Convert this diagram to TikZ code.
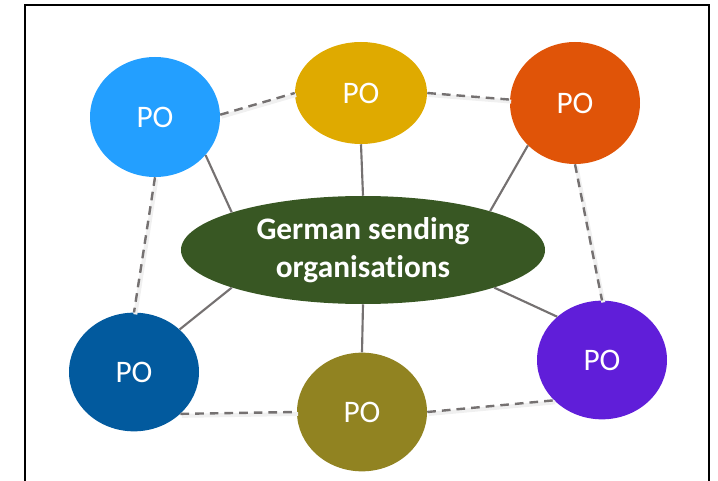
\documentclass[tikz,border=0pt]{standalone}
\usepackage{fontspec}
\setmainfont{Carlito}[Ligatures=NoCommon]
\usepackage{xcolor}
\usepackage{tikz}
\usetikzlibrary{shapes.geometric}

\definecolor{poSky}{HTML}{239FFF}
\definecolor{poGold}{HTML}{DFAA00}
\definecolor{poOrange}{HTML}{E05408}
\definecolor{poNavy}{HTML}{025A9E}
\definecolor{poPurple}{HTML}{601ED9}
\definecolor{poOlive}{HTML}{918321}
\definecolor{hubGreen}{HTML}{385723}
\definecolor{linkGray}{HTML}{757171}

\begin{document}
\begin{tikzpicture}[x=0.75pt, y=-0.75pt,
    po/.style={ellipse, inner sep=0pt, minimum width=97.5pt, minimum height=90pt,
      text=white, font=\fontsize{23.5}{28}\selectfont},
    link/.style={draw=linkGray, line width=1.6pt},
    peer/.style={draw=linkGray, line width=1.8pt, dash pattern=on 6.5pt off 4.5pt,
      preaction={draw=black!6, line width=3pt, transform canvas={shift={(1pt,-1.5pt)}}}}]
    \useasboundingbox (0,0) rectangle (718,481);

    % Frame
    \draw[line width=1.5pt] (25,485) -- (25,5) -- (709,5) -- (709,485);

    % Hub
    \node[ellipse, fill=hubGreen, inner sep=0pt, minimum width=273pt, minimum height=81pt,
      text=white, align=center, font=\bfseries\fontsize{23.5}{29}\selectfont]
      (hub) at (363,250) {German sending\\organisations};

    % Partner organisations
    \node[po, fill=poSky] (poTL) at (155,117) {PO};
    \node[po, fill=poGold, minimum width=99pt, minimum height=76.5pt] (poTM) at (361,93) {PO};
    \node[po, fill=poOrange, minimum height=91.5pt] (poTR) at (575,103) {PO};
    \node[po, fill=poNavy, minimum height=89pt] (poBL) at (134,372) {PO};
    \node[po, fill=poOlive, minimum height=89pt] (poBM) at (362,412) {PO};
    \node[po, fill=poPurple, minimum height=89pt] (poBR) at (602,360) {PO};

    % Links to hub
    \draw[link] (poTL.-37) -- (hub.164);
    \draw[link] (poTM.south) -- (hub.north);
    \draw[link] (poTR.-138) -- (hub.17);
    \draw[link] (poBL.43) -- (hub.-164);
    \draw[link] (poBM.north) -- (hub.south);
    \draw[link] (poBR.136) -- (hub.-16);

    % Links between POs
    \draw[peer] (poTL.2) -- (poTM.west);
    \draw[peer] (poTM.east) -- (poTR.177);
    \draw[peer] (poTL.south) -- (poBL.north);
    \draw[peer] (poTR.south) -- (poBR.north);
    \draw[peer] (poBL.-42) -- (poBM.west);
    \draw[peer] (poBM.east) -- (poBR.-140);
\end{tikzpicture}
\end{document}
